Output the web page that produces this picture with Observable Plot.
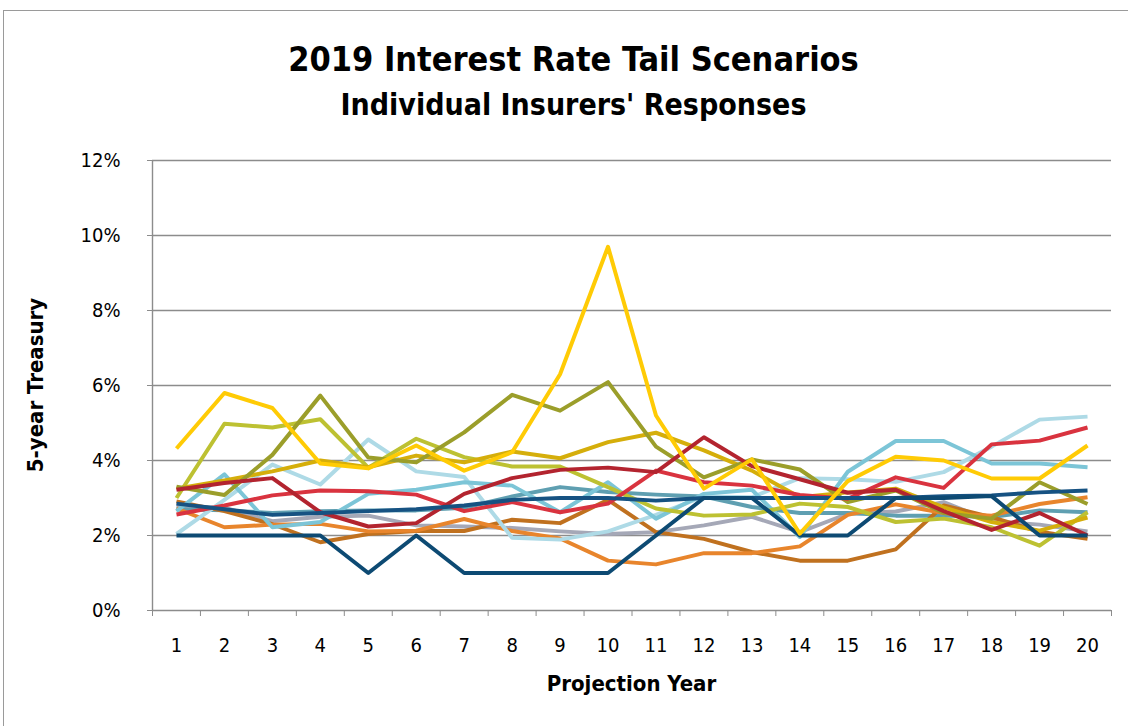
<!DOCTYPE html>
<html><head><meta charset="utf-8">
<script src="https://cdn.jsdelivr.net/npm/d3@7"></script>
<script src="https://cdn.jsdelivr.net/npm/@observablehq/plot@0.6"></script>
<style>
body{margin:0;background:#fff;}
#page{position:relative;width:1128px;height:726px;overflow:hidden;font-family:"DejaVu Sans Condensed","Liberation Sans",sans-serif;color:#000;}
#frame{position:absolute;left:3px;top:10px;width:1200px;height:800px;border:1px solid #9a9a9a;}
.t{position:absolute;left:0;width:1147px;text-align:center;font-weight:bold;white-space:nowrap;}
#title{top:39px;font-size:34px;}
#subtitle{top:87px;font-size:30px;}
#ylab{position:absolute;left:35px;top:385px;transform:translate(-50%,-50%) rotate(-90deg);font-weight:bold;font-size:22px;white-space:nowrap;}
#xlab{position:absolute;left:0;width:1263px;top:671px;text-align:center;font-weight:bold;font-size:22px;}
#chart{position:absolute;left:0;top:150px;}
</style></head>
<body><div id="page">
<div id="frame"></div>
<div class="t" id="title">2019 Interest Rate Tail Scenarios</div>
<div class="t" id="subtitle">Individual Insurers' Responses</div>
<div id="ylab">5-year Treasury</div>
<div id="xlab">Projection Year</div>
<div id="chart"></div>
</div>
<script>
const years = [1,2,3,4,5,6,7,8,9,10,11,12,13,14,15,16,17,18,19,20];
const yTicks = [0,2,4,6,8,10,12];

const navy1     = [2,2,2,2,1,2,1,1,1,1,2,3,3,2,2,3,3,3.05,2,2];
const navy2     = [2.85,2.7,2.55,2.6,2.65,2.7,2.8,2.95,3,3,2.93,3,3,3,3,3,3.05,3.07,3.15,3.2];
const yellow    = [4.32,5.8,5.4,3.92,3.79,4.4,3.73,4.22,6.3,9.7,5.2,3.25,4.03,2.05,3.45,4.1,4.0,3.52,3.52,4.4];
const darkOlive = [3.3,3.08,4.15,5.73,4.08,3.95,4.75,5.75,5.33,6.09,4.37,3.55,4.03,3.76,2.89,3.2,2.6,2.45,3.42,2.84];
const lightGreen= [3.0,4.98,4.88,5.1,3.81,4.58,4.09,3.84,3.84,3.29,2.72,2.53,2.56,2.85,2.76,2.36,2.45,2.22,1.73,2.62];
const gold      = [3.25,3.47,3.71,4.0,3.82,4.13,3.95,4.24,4.06,4.49,4.74,4.27,3.73,3.02,3.15,3.25,2.75,2.36,2.13,2.48];
const darkRed   = [3.22,3.4,3.53,2.62,2.24,2.33,3.11,3.53,3.75,3.81,3.69,4.62,3.85,3.5,3.14,3.22,2.65,2.15,2.6,2.0];
const brightRed = [2.56,2.8,3.07,3.2,3.18,3.09,2.65,2.89,2.62,2.85,3.73,3.42,3.33,3.08,2.98,3.55,3.27,4.43,4.53,4.88];
const cyan      = [2.65,3.63,2.22,2.36,3.11,3.22,3.42,3.33,2.62,3.42,2.45,3.11,3.22,1.96,3.7,4.52,4.52,3.92,3.92,3.82];
const lightBlue = [2.04,2.95,3.89,3.36,4.56,3.71,3.56,1.94,1.89,2.11,2.55,3.04,3.02,3.53,3.5,3.43,3.69,4.37,5.09,5.17];
const teal      = [2.7,2.67,2.6,2.65,2.67,2.67,2.74,3.04,3.29,3.16,3.09,3.04,2.76,2.6,2.6,2.53,2.53,2.49,2.67,2.62];
const brown     = [2.91,2.65,2.3,1.82,2.04,2.12,2.12,2.42,2.33,2.95,2.09,1.91,1.56,1.33,1.33,1.63,2.8,2.49,2.1,1.91];
const orange    = [2.72,2.22,2.29,2.31,2.11,2.13,2.44,2.12,1.92,1.33,1.23,1.53,1.53,1.71,2.55,2.83,2.6,2.53,2.84,3.02];
const gray      = [2.78,2.74,2.38,2.5,2.53,2.27,2.24,2.2,2.11,2.04,2.09,2.27,2.5,2.09,2.58,2.64,2.89,2.38,2.29,2.11];

const seriesNames = ["gray","teal","brown","orange","lightBlue","cyan","lightGreen","gold","darkOlive","brightRed","darkRed","navy2","navy1","yellow"];
const seriesValues = [gray,teal,brown,orange,lightBlue,cyan,lightGreen,gold,darkOlive,brightRed,darkRed,navy2,navy1,yellow];
const seriesColors = ["#a5a8b7","#5f9fb1","#c0711f","#e8852c","#aedae6","#7cc5d7","#bdc132","#d5ae0b","#9b9e2a","#d9333f","#b3242f","#165282","#0d4a73","#ffcb05"];

const table = [];
seriesNames.forEach((s,i)=>seriesValues[i].forEach((v,j)=>table.push({series:s, year:years[j], value:v/100})));
const bounds = years.map(y=>y-0.5).concat([years[years.length-1]+0.5]);

const chart = Plot.plot({
  width:1128, height:576,
  marginTop:10, marginBottom:116, marginLeft:152, marginRight:17,
  style:{fontFamily:'"DejaVu Sans Condensed","Liberation Sans",sans-serif', fontSize:"20px", color:"#000", background:"transparent", overflow:"visible"},
  x:{type:"linear", domain:[bounds[0], bounds[bounds.length-1]]},
  y:{domain:[0,0.12]},
  color:{domain:seriesNames, range:seriesColors},
  marks:[
    Plot.ruleY(yTicks.map(d=>d/100), {stroke:"#8c8c8c", strokeWidth:1.4}),
    Plot.ruleX([bounds[0]], {y1:0, y2:0.12, stroke:"#8c8c8c", strokeWidth:1.4}),
    Plot.line(table, {x:"year", y:"value", z:"series", stroke:"series", strokeWidth:4, strokeLinejoin:"round", strokeLinecap:"butt"}),
    Plot.axisY({ticks:yTicks.map(d=>d/100), tickFormat:d=>Math.round(d*100)+"%", tickSize:5, tickPadding:27, stroke:"#8c8c8c", label:null}),
    Plot.axisX({ticks:bounds, tickFormat:()=>"", tickSize:6, stroke:"#8c8c8c", label:null}),
    Plot.axisX({ticks:years, tickFormat:d=>String(d), tickSize:0, tickPadding:27, label:null})
  ]
});
document.getElementById("chart").appendChild(chart);
</script>
</body></html>
